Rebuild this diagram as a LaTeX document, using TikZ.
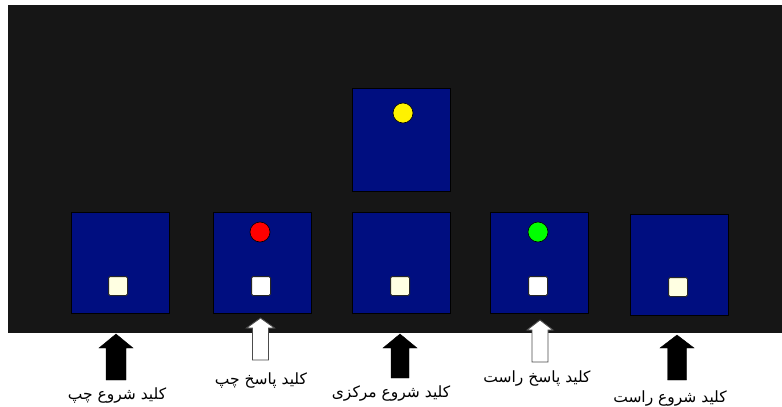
\documentclass[tikz,border=0pt]{standalone}
\usepackage{fontspec}
\newfontfamily\arabicfont[Script=Arabic]{DejaVu Sans}
\TeXXeTstate=1
\definecolor{bgblack}{RGB}{22,22,22}
\definecolor{keyblue}{RGB}{0,14,128}
\definecolor{cream}{RGB}{255,255,226}
\tikzset{
  panel/.style={draw=black, line width=0.8pt, fill=keyblue, minimum width=98pt, minimum height=101pt, inner sep=0pt},
  startkey/.style={draw=black!85, fill=cream, minimum size=19pt, rounded corners=1.5pt, inner sep=0pt, line width=1pt},
  respkey/.style={draw=black!85, fill=white, minimum size=19pt, rounded corners=1.5pt, inner sep=0pt, line width=1pt},
  cue/.style={circle, draw=black, fill=#1, minimum size=20pt, inner sep=0pt, line width=0.6pt},
  lbl/.style={font=\arabicfont\fontsize{15.5}{18}\selectfont, inner sep=0pt, text=black},
  blackarrow/.style={fill=black},
  whitearrow/.style={fill=white, draw=black!70, line width=0.9pt}
}
\newcommand{\uparrowblk}[7]{%
  \draw[#1] (#2,#3) -- (#2+#6,#4) -- (#2+#7,#4) -- (#2+#7,#5) -- (#2-#7,#5) -- (#2-#7,#4) -- (#2-#6,#4) -- cycle;}
\begin{document}
\begin{tikzpicture}[x=1pt,y=-1pt]
\useasboundingbox (0,0) rectangle (782,407);
\fill[bgblack] (8,5) rectangle (782,333);
% panels
\node[panel, minimum height=103pt] (p0) at (401.5,139.5) {};
\node[panel] (p1) at (120,263) {};
\node[panel] (p2) at (262.5,263) {};
\node[panel] (p3) at (401,263) {};
\node[panel] (p4) at (539.5,263) {};
\node[panel] (p5) at (679,264.5) {};
% keys
\node[startkey] (s1) at (118,286) {};
\node[respkey]  (s2) at (261,286) {};
\node[startkey] (s3) at (400,286) {};
\node[respkey]  (s4) at (538,286) {};
\node[startkey] (s5) at (678,287) {};
% cues
\node[cue=yellow] (cy) at (403,113) {};
\node[cue=red] (cr) at (260,232) {};
\node[cue=green] (cg) at (538,232) {};
% arrows
\uparrowblk{blackarrow}{116}{334}{348}{380}{17}{10}
\uparrowblk{whitearrow}{260.5}{318}{328}{360}{14}{8}
\uparrowblk{blackarrow}{400}{334}{348}{378}{17}{9}
\uparrowblk{whitearrow}{540}{320}{330}{362}{13}{8}
\uparrowblk{blackarrow}{677}{335}{348}{380}{17}{9.5}
% labels
\node[lbl] (l1) at (117,395) {\beginR کلید شروع چپ\endR};
\node[lbl] (l2) at (261,380) {\beginR کلید پاسخ چپ\endR};
\node[lbl] (l3) at (391,393) {\beginR کلید شروع مرکزی\endR};
\node[lbl] (l4) at (537,378) {\beginR کلید پاسخ راست\endR};
\node[lbl] (l5) at (670,398) {\beginR کلید شروع راست\endR};
\end{tikzpicture}
\end{document}
